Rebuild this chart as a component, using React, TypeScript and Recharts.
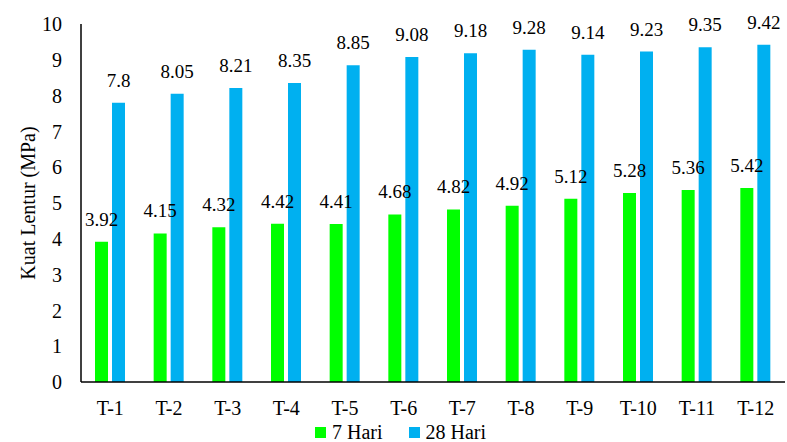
import { Bar, BarChart, LabelList, Legend, XAxis, YAxis, Label } from "recharts";

const categories = ["T-1", "T-2", "T-3", "T-4", "T-5", "T-6", "T-7", "T-8", "T-9", "T-10", "T-11", "T-12"];
const hari7 = [3.92, 4.15, 4.32, 4.42, 4.41, 4.68, 4.82, 4.92, 5.12, 5.28, 5.36, 5.42];
const hari28 = [7.8, 8.05, 8.21, 8.35, 8.85, 9.08, 9.18, 9.28, 9.14, 9.23, 9.35, 9.42];
const yTicks = [0, 1, 2, 3, 4, 5, 6, 7, 8, 9, 10];

const FONT = "Liberation Serif";
const GREEN = "#00ff00";
const BLUE = "#00b0f0";

type Row = { name: string; h7: number; h28: number };

const data: Row[] = categories.map((c, i) => ({ name: c, h7: hari7[i], h28: hari28[i] }));

function LegendBox() {
  const item = (color: string, text: string, gap: number) => (
    <div style={{ display: "flex", alignItems: "center", marginRight: gap }}>
      <span style={{ width: 11, height: 11, background: color, display: "inline-block", marginRight: 6 }} />
      <span>{text}</span>
    </div>
  );
  return (
    <div
      style={{
        display: "flex",
        alignItems: "center",
        paddingLeft: 315,
        height: 20,
        fontFamily: FONT,
        fontSize: 20,
        lineHeight: "20px",
        color: "#000",
      }}
    >
      {item(GREEN, "7 Hari", 26)}
      {item(BLUE, "28 Hari", 0)}
    </div>
  );
}

export default function App() {
  return (
    <div style={{ width: 787, height: 442, background: "#fff" }}>
      <style>{`body{margin:0}`}</style>
      <BarChart
        width={787}
        height={442}
        data={data}
        margin={{ top: 24, right: 2, left: 0, bottom: 0 }}
        barGap={4}
        barSize={13}
      >
        <XAxis
          dataKey="name"
          height={40}
          tickSize={0}
          tickMargin={19}
          tickLine={false}
          axisLine={{ stroke: "#000", strokeWidth: 1.5 }}
          tick={{ fontSize: 20, fontFamily: FONT, fill: "#000" }}
          interval={0}
        />
        <YAxis
          width={81}
          domain={[0, 10]}
          ticks={yTicks}
          interval={0}
          tickSize={0}
          tickMargin={19}
          tickLine={false}
          axisLine={{ stroke: "#000", strokeWidth: 1.5 }}
          tick={{ fontSize: 20, fontFamily: FONT, fill: "#000" }}
        >
          <Label
            content={({ viewBox }: any) => {
              const cy = viewBox.y + viewBox.height / 2;
              return (
                <text
                  x={28}
                  y={cy}
                  transform={`rotate(-90, 28, ${cy})`}
                  textAnchor="middle"
                  dominantBaseline="central"
                  fontFamily={FONT}
                  fontSize={20}
                  fill="#000"
                >
                  Kuat Lentur (MPa)
                </text>
              );
            }}
          />
        </YAxis>
        <Legend
          verticalAlign="bottom"
          height={20}
          wrapperStyle={{ left: 0, width: 787 }}
          content={() => <LegendBox />}
        />
        <Bar dataKey="h7" name="7 Hari" fill={GREEN} isAnimationActive={false}>
          <LabelList dataKey="h7" position="top" offset={16} style={{ fontSize: 19, fontFamily: FONT, fill: "#000" }} />
        </Bar>
        <Bar dataKey="h28" name="28 Hari" fill={BLUE} isAnimationActive={false}>
          <LabelList dataKey="h28" position="top" offset={16} style={{ fontSize: 19, fontFamily: FONT, fill: "#000" }} />
        </Bar>
      </BarChart>
    </div>
  );
}
